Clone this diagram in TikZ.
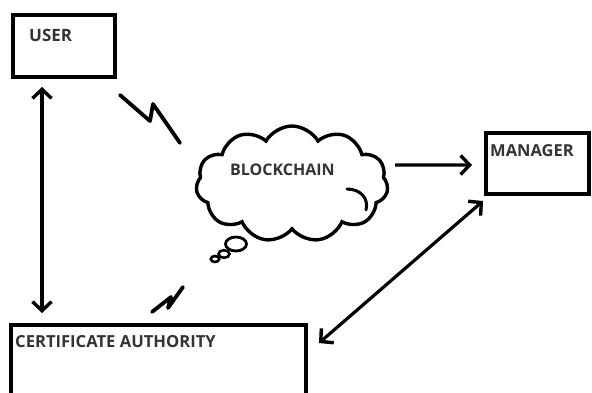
\documentclass[tikz,border=0pt]{standalone}
\usepackage{fontspec}
\setmainfont{Open Sans}
\usetikzlibrary{arrows.meta,shapes.symbols}
\tikzset{barbtip/.tip={Straight Barb[length=9pt,width=19pt,line width=3.4pt]}}
\begin{document}
\begin{tikzpicture}[x=1pt,y=-1pt,
  box/.style={draw=black,line width=3.6pt,minimum width=#1,inner sep=0pt,outer sep=0pt,rectangle},
  lbl/.style={anchor=base west,inner sep=0pt,font=\fontsize{#1}{18}\selectfont\bfseries,text=black!80},
  link/.style={line width=3.2pt,barbtip-barbtip},
  flow/.style={line width=3.2pt,-barbtip},
  bolt/.style={line width=3.8pt,line cap=round,line join=round}]
\useasboundingbox (0,0) rectangle (592,392);
\clip (0,0) rectangle (592,392);

% boxes
\node[box=102pt,minimum height=62pt] (user) at (64,46) {};
\node[box=103pt,minimum height=61pt] (manager) at (537.5,163.5) {};
\node[box=295pt,minimum height=71pt] (ca) at (158.5,360.5) {};

% cloud with its trail of bubbles
\node[cloud,draw=black,line width=3.4pt,cloud puffs=11,cloud puff arc=120,aspect=1.65,
      minimum width=192pt,minimum height=116pt,inner sep=0pt,outer sep=0pt] (chain) at (292,184) {};
\draw[line width=3pt,line cap=round] (347,189) .. controls (360,189) and (369,198) .. (366,210);
\draw[line width=2.8pt] (236,244) ellipse [x radius=10.5, y radius=7];
\draw[line width=2.6pt] (224,254) ellipse [x radius=5.5, y radius=3.8];
\draw[line width=2.6pt] (215,259) ellipse [x radius=4.2, y radius=3];

% labels
\node[lbl=17] (userlbl) at (29,41) {USER};
\node[lbl=16.5] (managerlbl) at (490,156) {MANAGER};
\node[lbl=16] (chainlbl) at (230,175) {BLOCKCHAIN};
\node[lbl=16.6] (calbl) at (15,347) {CERTIFICATE AUTHORITY};

% connectors
\draw[link] ([shift={(29,10)}]user.south west) -- ([shift={(31,-12)}]ca.north west);
\draw[flow] ([shift={(8,-19)}]chain.east) -- ([shift={(-14,1.5)}]manager.west);
\draw[link] ([shift={(-3,7)}]manager.south west) -- ([shift={(13,18)}]ca.north east);

% wireless links
\draw[bolt] (120,95) -- (150,121) -- (153,104) -- (180,143);
\draw[bolt] (152,312) -- (171,297) -- (168,308) -- (183,287);
\end{tikzpicture}
\end{document}
